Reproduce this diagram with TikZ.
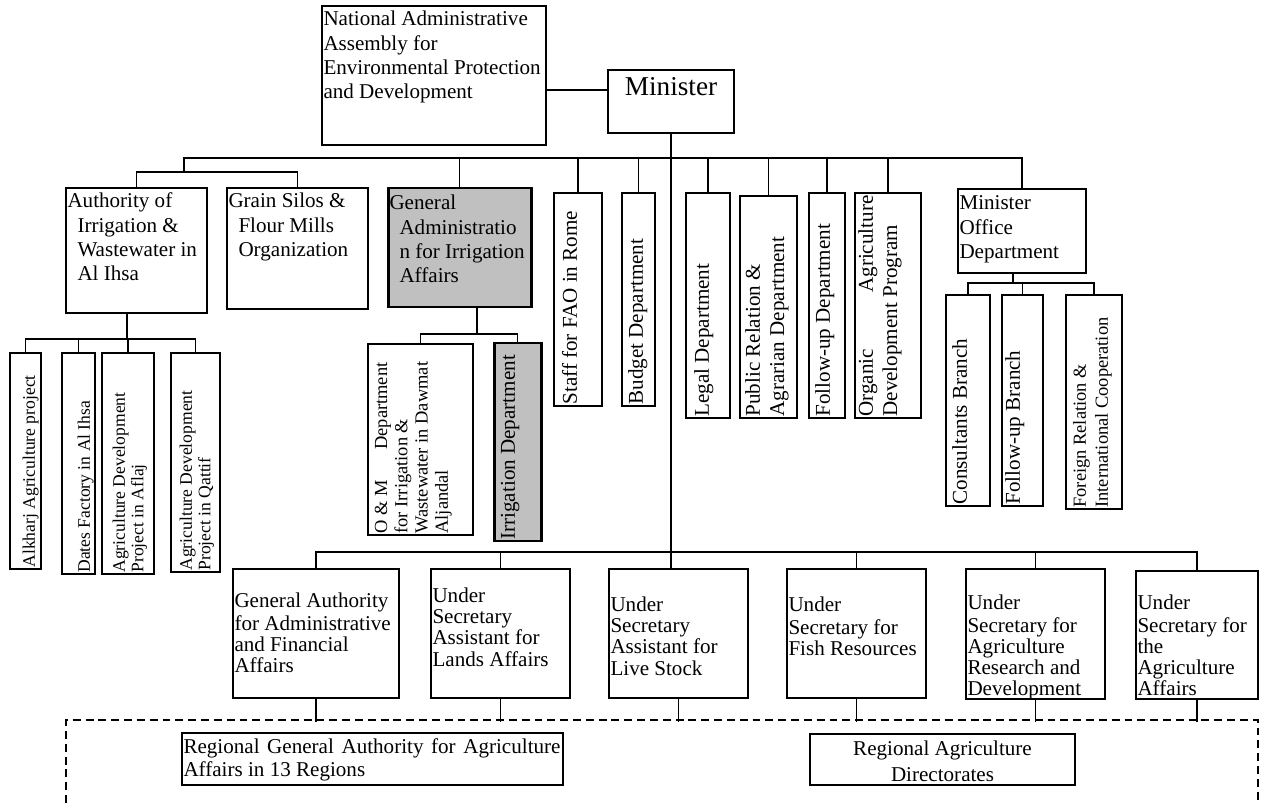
\documentclass[tikz,border=0pt]{standalone}
\usepackage{fontspec}
\setmainfont{Liberation Serif}
\newlength\pxu
\setlength\pxu{0.02cm}
% box text: width, height, top pad (all in px), text
\newcommand{\cell}[4]{\parbox[c][#2\pxu][t]{#1\pxu}{\raggedright\leftskip=1.5\pxu\vspace*{#3\pxu}\strut#4}}
\newcommand{\ind}{\hspace*{10\pxu}}
\definecolor{silver}{RGB}{192,192,192}
\begin{document}
\begin{tikzpicture}[x=0.02cm, y=-0.02cm,
  box/.style={draw, line width=1pt, inner sep=0pt, font=\fontsize{12}{13.8}\selectfont},
  vbox/.style={box, rotate=90},
  hilite/.style={fill=silver, line width=1.7pt},
  small/.style={font=\fontsize{10}{10.5}\selectfont},
  tight/.style={font=\fontsize{12}{12}\selectfont},
  link/.style={line width=1pt}]
\useasboundingbox (0,0) rectangle (1263,803);

% top
\node[box] (nat) at (434,75.5) {\cell{224}{139}{3}{National Administrative\\Assembly for\\Environmental Protection\\and Development}};
\node[box, font=\fontsize{15.5}{17}\selectfont] (minister) at (671,101.5) {\cell{126}{63}{5}{\centering Minister}};

% second level
\node[box] (auth) at (136.5,250.5) {\cell{141}{125}{3}{Authority of\\\ind Irrigation \&\\\ind Wastewater in\\\ind Al Ihsa}};
\node[box] (grain) at (297.5,248.5) {\cell{141}{121}{3}{Grain Silos \&\\\ind Flour Mills\\\ind Organization}};
\node[box, hilite] (genadm) at (459.5,247.5) {\cell{143}{119}{5}{General\\\ind Administratio\\\ind n for Irrigation\\\ind Affairs}};
\node[vbox] (fao) at (578,299.5) {\cell{213}{48}{6}{Staff for FAO in Rome}};
\node[vbox] (budget) at (638.5,299.5) {\cell{213}{33}{4}{Budget Department}};
\node[vbox] (legal) at (708,305.5) {\cell{225}{44}{6}{Legal Department}};
\node[vbox] (pubrel) at (768.5,307) {\cell{222}{57}{3}{Public Relation \&\\Agrarian Department}};
\node[vbox] (follow) at (827,305.5) {\cell{225}{36}{4}{Follow-up Department}};
\node[vbox] (organic) at (888,305.5) {\cell{225}{66}{1}{\makebox[221\pxu][l]{Organic\hfill Agriculture}\\Development Program}};
\node[box] (minoff) at (1022,231) {\cell{128}{84}{4}{Minister\\Office\\Department}};

% branches
\node[vbox] (consult) at (968,400.5) {\cell{211}{44}{4}{Consultants Branch}};
\node[vbox] (follwb) at (1022.5,400.5) {\cell{211}{41}{1}{Follow-up Branch}};
\node[vbox, font=\fontsize{10.5}{12.5}\selectfont] (foreign) at (1094,402) {\cell{214}{56}{4.5}{Foreign Relation \&\\International Cooperation}};
\node[vbox, font=\fontsize{10.5}{11.5}\selectfont] (om) at (420.5,439.5) {\cell{191}{105}{5}{\makebox[171\pxu][l]{O \& M\hfill Department}\\for Irrigation \&\\Wastewater in Dawmat\\Aljandal}};
\node[vbox, hilite] (irrig) at (517.5,442) {\cell{198}{47}{4}{Irrigation Department}};
\node[vbox, small] (alkharj) at (25.5,461) {\cell{216}{31}{12}{Alkharj Agriculture project}};
\node[vbox, small] (dates) at (78.5,463.5) {\cell{221}{33}{15}{Dates Factory in Al Ihsa}};
\node[vbox, small] (aflaj) at (128,463.5) {\cell{221}{52}{10}{Agriculture Development\\Project in Aflaj}};
\node[vbox, small] (qattif) at (195.5,462.5) {\cell{219}{49}{8}{Agriculture Development\\Project in Qattif}};

% under secretaries
\node[box, tight] (admfin) at (316,633.5) {\cell{166}{129}{24}{General Authority\\for Administrative\\and Financial\\Affairs}};
\node[box, tight] (lands) at (500.5,633.5) {\cell{139}{129}{19}{Under\\Secretary\\Assistant for\\Lands Affairs}};
\node[box, tight] (live) at (678.5,633.5) {\cell{139}{129}{28}{Under\\Secretary\\Assistant for\\Live Stock}};
\node[box, tight] (fish) at (856.5,633.5) {\cell{139}{129}{28}{Under\\Secretary for\\Fish Resources}};
\node[box, tight] (resdev) at (1035.5,634) {\cell{139}{130}{26}{Under\\Secretary for\\Agriculture\\Research and\\Development}};
\node[box, tight] (agraff) at (1197,635) {\cell{122}{128}{24}{Under\\Secretary for\\the\\Agriculture\\Affairs}};

% regions
\node[box, font=\fontsize{12}{11.5}\selectfont] (regga) at (372.5,759) {\cell{381}{52}{6}{\makebox[377\pxu][s]{Regional General Authority for Agriculture}\\Affairs in 13 Regions}};
\node[box, font=\fontsize{12}{15}\selectfont] (regdir) at (942.5,759.5) {\cell{265}{51}{3}{\centering Regional Agriculture\\Directorates}};

% connectors
\coordinate (tbus) at (184,158);
\coordinate (lbus) at (184,172);
\coordinate (gsub) at (477,334);
\coordinate (msub) at (1013,283);
\coordinate (lsub) at (127,339);
\coordinate (bbus) at (671,552);
\coordinate (dline) at (66,722);
\coordinate (mlink) at ([yshift=0.23cm]minister.west);

\draw[link] (mlink) -- (mlink -| nat.east);
\draw[link] (minister.south) -- (minister.south |- live.north);
\draw[link] (auth.north) |- (lbus) -| (grain.north);
\draw[link] (lbus) -- (tbus) -| (minoff.north);
\foreach \n/\a in {genadm/north,fao/east,budget/east,legal/east,pubrel/east,follow/east,organic/east}
  \draw[link] (\n.\a) -- (\n.\a |- tbus);
\draw[link] (gsub |- genadm.south) -- (gsub);
\draw[link] (om.east) |- (gsub) -| (irrig.east);
\draw[link] (msub |- minoff.south) -- (msub);
\draw[link] (consult.east) |- (msub) -| (foreign.east);
\draw[link] (follwb.east) -- (follwb.east |- msub);
\draw[link] (lsub |- auth.south) -- (lsub);
\draw[link] (alkharj.east) |- (lsub) -| (qattif.east);
\foreach \n in {dates,aflaj}
  \draw[link] (\n.east) -- (\n.east |- lsub);
\draw[link] (admfin.north) |- (bbus) -| (agraff.north);
\foreach \n in {lands,fish,resdev}
  \draw[link] (\n.north) -- (\n.north |- bbus);
\foreach \n in {admfin,lands,live,fish,resdev,agraff}
  \draw[link] (\n.south) -- (\n.south |- dline);
\draw[link, dash pattern=on 4.5pt off 2.8pt] (66,803) -- (66,720) -- (1258,720) -- (1258,803);
\end{tikzpicture}
\end{document}
